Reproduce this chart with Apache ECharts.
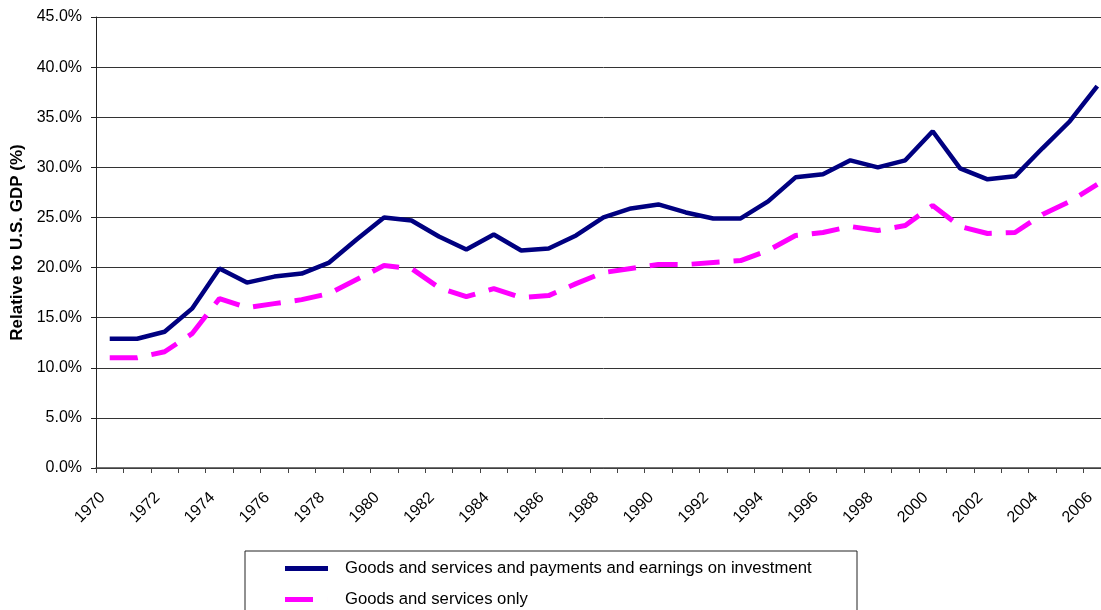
<!DOCTYPE html>
<html>
<head>
<meta charset="utf-8">
<script src="https://cdn.jsdelivr.net/npm/echarts@6/dist/echarts.min.js"></script>
<style>
html,body{margin:0;padding:0;background:#fff;overflow:hidden;width:1101px;height:610px;}
#chart{width:1111px;height:610px;}
</style>
</head>
<body>
<div id="chart"></div>
<script>
var years = ['1970','1971','1972','1973','1974','1975','1976','1977','1978','1979','1980','1981','1982','1983','1984','1985','1986','1987','1988','1989','1990','1991','1992','1993','1994','1995','1996','1997','1998','1999','2000','2001','2002','2003','2004','2005','2006'];
var goodsServicesInvestment = [12.9,12.9,13.6,15.9,19.9,18.5,19.1,19.4,20.5,22.8,25.0,24.7,23.1,21.8,23.3,21.7,21.9,23.2,25.0,25.9,26.3,25.5,24.9,24.9,26.6,29.0,29.3,30.7,30.0,30.7,33.6,29.9,28.8,29.1,31.9,34.6,38.1];
var goodsServicesOnly = [11.0,11.0,11.6,13.4,16.9,16.0,16.4,16.8,17.4,18.8,20.2,19.9,18.0,17.1,17.9,17.0,17.2,18.4,19.5,19.9,20.3,20.3,20.5,20.7,21.7,23.2,23.5,24.1,23.7,24.2,26.2,24.1,23.4,23.5,25.3,26.6,28.3];
var seriesNames = ['Goods and services and payments and earnings on investment','Goods and services only'];
var yTicks = {min:0, max:45, interval:5};

var FONT = 'Arial, "Liberation Sans", sans-serif';
var chart = echarts.init(document.getElementById('chart'));
chart.setOption({
  animation:false,
  backgroundColor:'#ffffff',
  textStyle:{fontFamily:FONT},
  grid:{left:96, top:17, right:0, height:451},
  xAxis:{
    type:'category',
    data:years,
    boundaryGap:true,
    axisLine:{lineStyle:{color:'#444', width:1.5}},
    axisTick:{show:true, interval:0, length:5, lineStyle:{color:'#444'}},
    axisLabel:{interval:1, rotate:45, color:'#000', fontSize:16, margin:20, padding:[0,10,0,0], fontFamily:FONT},
    splitLine:{show:false}
  },
  yAxis:{
    type:'value',
    min:yTicks.min, max:yTicks.max, interval:yTicks.interval,
    name:'Relative to U.S. GDP (%)',
    nameLocation:'middle',
    nameGap:69,
    nameRotate:90,
    nameTextStyle:{fontSize:17, fontWeight:'bold', color:'#000', fontFamily:FONT},
    axisLine:{show:true, lineStyle:{color:'#222', width:1}},
    axisTick:{show:true, length:5, lineStyle:{color:'#222'}},
    axisLabel:{color:'#000', fontSize:16, margin:14, formatter:function(v){return v.toFixed(1)+'%';}, fontFamily:FONT},
    splitLine:{show:true, lineStyle:{color:'#333', width:1}}
  },
  legend:{
    orient:'vertical',
    left:285, top:560,
    padding:0,
    itemWidth:43, itemHeight:5, itemGap:14,
    symbolKeepAspect:false,
    textStyle:{fontSize:16.7, color:'#000', padding:[0,0,0,12], fontFamily:FONT},
    data:[
      {name:seriesNames[0], icon:'rect'},
      {name:seriesNames[1], icon:'path://M0,0h28v5h-28zM42.99,0h0.01v5h-0.01z'}
    ]
  },
  graphic:[{
    type:'rect',
    shape:{x:245, y:551, width:612, height:80},
    style:{fill:'none', stroke:'#222', lineWidth:1},
    z:-1
  }],
  series:[
    {
      name:seriesNames[0], type:'line', data:goodsServicesInvestment,
      symbol:'none', showSymbol:false,
      lineStyle:{color:'#000080', width:4.5},
      itemStyle:{color:'#000080'}
    },
    {
      name:seriesNames[1], type:'line', data:goodsServicesOnly,
      symbol:'none', showSymbol:false,
      lineStyle:{color:'#ff00ff', width:5, type:[28,14]},
      itemStyle:{color:'#ff00ff'}
    }
  ]
});
</script>
</body>
</html>
